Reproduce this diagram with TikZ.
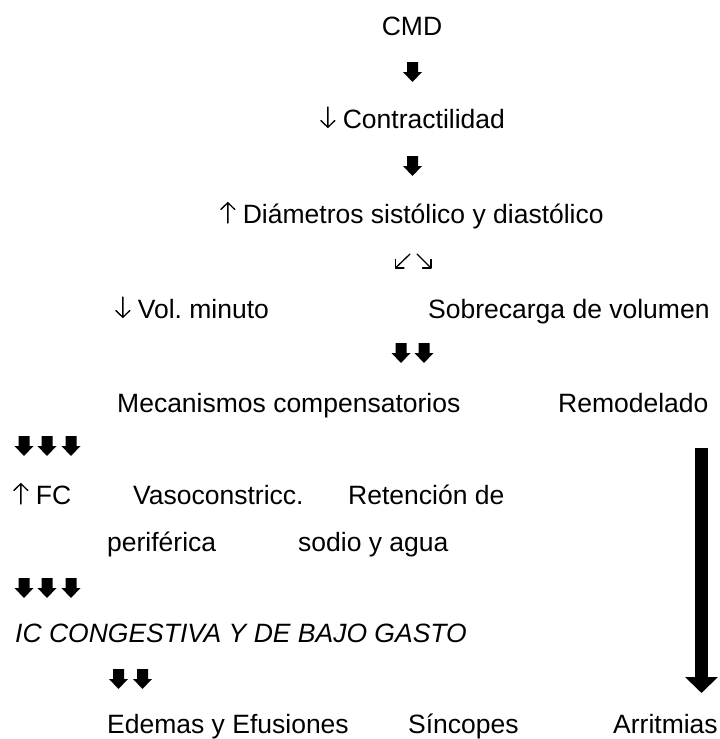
\documentclass[tikz,border=0pt]{standalone}
\usepackage{fontspec}
\setmainfont{Liberation Sans}
\usepackage{tikz}
\usetikzlibrary{arrows.meta}
% thin arrows in front of the text
\newcommand{\dnarr}{\tikz[baseline=0pt, x=1pt, y=1pt] \draw[line width=1.3pt, line cap=round, line join=round] (8,21) -- (8,0.6) (1,7.5) -- (8,0.6) -- (15,7.5);}
\newcommand{\uparr}{\tikz[baseline=0pt, x=1pt, y=1pt] \draw[line width=1.3pt, line cap=round, line join=round] (8,0) -- (8,20.4) (1,13.5) -- (8,20.4) -- (15,13.5);}
\tikzset{
    txt/.style={anchor=base west, inner sep=0pt, font=\fontsize{26.5}{30}\selectfont\frenchspacing},
    slant/.style={txt, font=\fontsize{26.5}{30}\selectfont\itshape},
    % small block arrows between the rows
    pics/downblk/.style={code={
        \fill (-5.5,-10) -- (5.5,-10) -- (5.5,0) -- (9.5,0) -- (0,10) -- (-9.5,0) -- (-5.5,0) -- cycle;
    }},
    thinarrow/.style={line width=1.3pt, line cap=round, line join=round},
    bigarrow/.style={line width=13pt, -{Triangle[width=32pt,length=16pt]}}
}
\begin{document}
\begin{tikzpicture}[x=1pt, y=-1pt]
    \useasboundingbox (0,0) rectangle (720,739);

    \node [txt, anchor=base] (cmd) at (412,35) {CMD};
    \pic at (412.5,72) {downblk};
    \node [txt] (contr) at (320,128) {\dnarr{} Contractilidad};
    \pic at (412.5,166) {downblk};
    \node [txt] (diam) at (220,223) {\uparr{} Diámetros sistólico y diastólico};

    % split arrows
    \draw [thinarrow] (410,254) -- (395.5,268);
    \draw [thinarrow] (395.5,259.5) -- (395.5,268) -- (404,268);
    \draw [thinarrow] (417,254) -- (431,268);
    \draw [thinarrow] (431,259.5) -- (431,268) -- (422.5,268);

    \node [txt] (volmin) at (115,318) {\dnarr{} Vol. minuto};
    \node [txt] (sobrec) at (428,318) {Sobrecarga de volumen};
    \pic at (401,353) {downblk};
    \pic at (424,353) {downblk};
    \node [txt] (mecan) at (117,412) {Mecanismos compensatorios};
    \node [txt] (remod) at (558,412) {Remodelado};

    \foreach \x in {24,47,71} {
        \pic at (\x,446) {downblk};
        \pic at (\x,588) {downblk};
    }
    \node [txt] (fc) at (13,504) {\uparr{} FC};
    \node [txt] (vaso) at (133,504) {Vasoconstricc.};
    \node [txt] (reten) at (348,504) {Retención de};
    \node [txt] (perif) at (107,551) {periférica};
    \node [txt] (sodio) at (298,551) {sodio y agua};

    \node [slant] (icc) at (15,642) {IC CONGESTIVA Y DE BAJO GASTO};
    \pic at (118.5,679) {downblk};
    \pic at (142.5,679) {downblk};
    \node [txt] (edem) at (107,733) {Edemas y Efusiones};
    \node [txt] (sinc) at (408,733) {Síncopes};
    \node [txt] (arrit) at (613,733) {Arritmias};

    \coordinate (remtop) at (701.5,448);
    \coordinate (remend) at (701.5,693);
    \draw [bigarrow] (remtop) -- (remend);
\end{tikzpicture}
\end{document}
